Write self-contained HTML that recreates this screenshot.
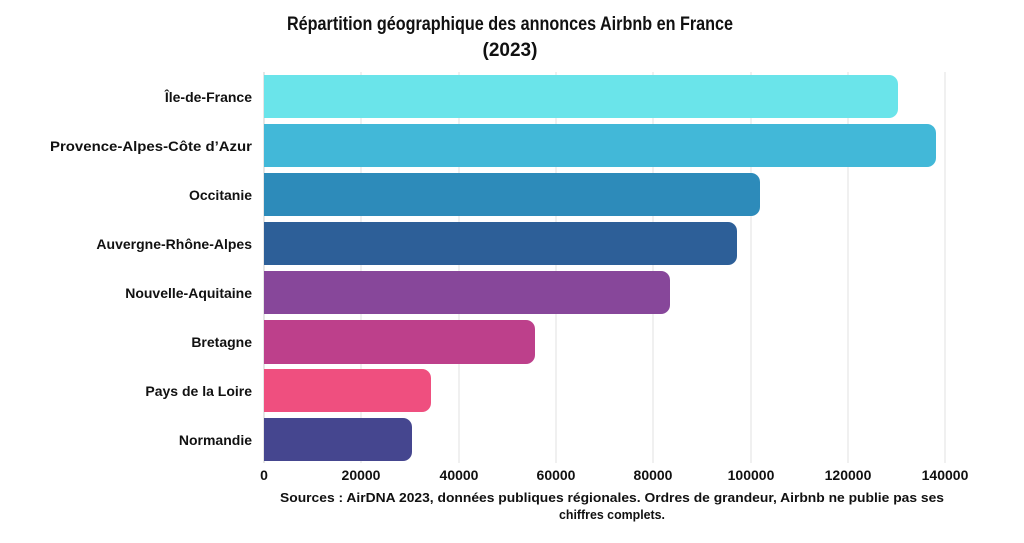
<!DOCTYPE html>
<html><head><meta charset="utf-8"><style>
body{margin:0;background:#fff;}
svg text{font-family:"Liberation Sans",sans-serif;font-weight:bold;fill:#111;}
</style></head><body>
<svg width="1024" height="538" xmlns="http://www.w3.org/2000/svg">
<rect width="1024" height="538" fill="#fff"/>
<text x="510" y="30" font-size="19" text-anchor="middle" textLength="446" lengthAdjust="spacingAndGlyphs">Répartition géographique des annonces Airbnb en France</text>
<text x="510" y="56" font-size="19" text-anchor="middle">(2023)</text>
<g stroke="#e2e2e2" stroke-width="1">
<line x1="361" y1="72" x2="361" y2="463"/><line x1="459" y1="72" x2="459" y2="463"/>
<line x1="556" y1="72" x2="556" y2="463"/><line x1="653" y1="72" x2="653" y2="463"/>
<line x1="751" y1="72" x2="751" y2="463"/><line x1="848" y1="72" x2="848" y2="463"/>
<line x1="945" y1="72" x2="945" y2="463"/>
</g>
<line x1="264" y1="72" x2="264" y2="463" stroke="#ccc"/>
<g>
<path d="M264 75H889a9 9 0 0 1 9 9V109a9 9 0 0 1 -9 9H264Z" fill="#6ae4ea"/>
<path d="M264 124H927a9 9 0 0 1 9 9V158a9 9 0 0 1 -9 9H264Z" fill="#42b8d8"/>
<path d="M264 173H751a9 9 0 0 1 9 9V207a9 9 0 0 1 -9 9H264Z" fill="#2d8bba"/>
<path d="M264 222H728a9 9 0 0 1 9 9V256a9 9 0 0 1 -9 9H264Z" fill="#2d5f98"/>
<path d="M264 271H661a9 9 0 0 1 9 9V305a9 9 0 0 1 -9 9H264Z" fill="#87479a"/>
<path d="M264 320H526a9 9 0 0 1 9 9V355a9 9 0 0 1 -9 9H264Z" fill="#bd408b"/>
<path d="M264 369H422a9 9 0 0 1 9 9V403a9 9 0 0 1 -9 9H264Z" fill="#ef4f7f"/>
<path d="M264 418H403a9 9 0 0 1 9 9V452a9 9 0 0 1 -9 9H264Z" fill="#45468f"/>
</g>
<g font-size="14" text-anchor="end">
<text x="252" y="102">Île-de-France</text>
<text x="252" y="151" textLength="202" lengthAdjust="spacingAndGlyphs">Provence-Alpes-Côte d’Azur</text>
<text x="252" y="200">Occitanie</text>
<text x="252" y="249">Auvergne-Rhône-Alpes</text>
<text x="252" y="298">Nouvelle-Aquitaine</text>
<text x="252" y="347">Bretagne</text>
<text x="252" y="396">Pays de la Loire</text>
<text x="252" y="445">Normandie</text>
</g>
<g font-size="14" text-anchor="middle">
<text x="264" y="480">0</text><text x="361" y="480">20000</text><text x="459" y="480">40000</text>
<text x="556" y="480">60000</text><text x="653" y="480">80000</text><text x="751" y="480">100000</text>
<text x="848" y="480">120000</text><text x="945" y="480">140000</text>
</g>
<g font-size="12.5" text-anchor="middle">
<text x="612" y="502" textLength="664" lengthAdjust="spacingAndGlyphs">Sources : AirDNA 2023, données publiques régionales. Ordres de grandeur, Airbnb ne publie pas ses</text>
<text x="612" y="519" textLength="106" lengthAdjust="spacingAndGlyphs">chiffres complets.</text>
</g>
</svg>
</body></html>
